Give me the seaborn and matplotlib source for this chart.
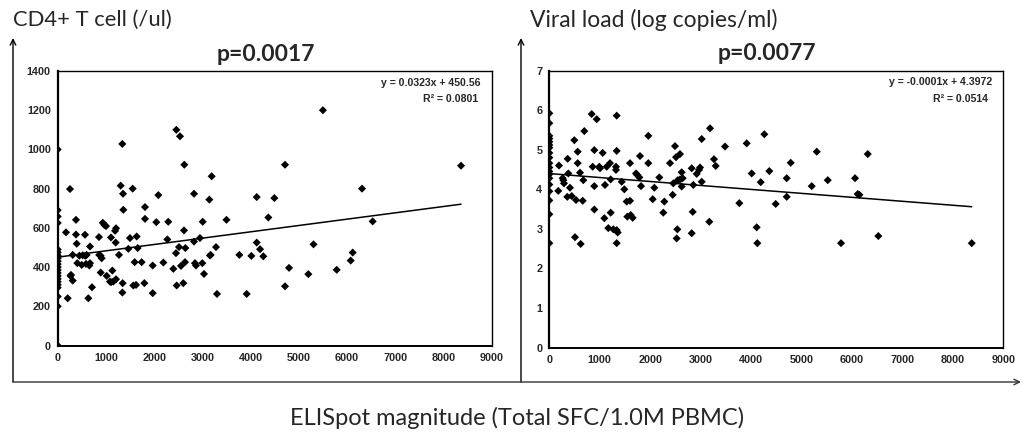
import matplotlib
matplotlib.use("Agg")
import matplotlib.pyplot as plt
import seaborn as sns
import numpy as np
import pandas as pd

# ---------------- data ----------------
cd4_x = [0, 0, 0, 0, 0, 0, 0, 0, 0, 0, 0, 0, 0, 0, 0, 0, 0, 0, 0, 0, 0,
         255, 172, 379, 379, 566, 394, 670, 856, 935, 966, 1002, 1105, 1190, 1210, 1203,
         1306, 1340, 1355, 1361, 1499, 1555, 1638, 1659, 1465, 1810, 1810, 2045, 2087,
         2274, 2293, 2460, 2536, 2626, 2619, 2516, 2647, 2453, 2827, 2827, 2950, 3007,
         3144, 3193, 3172, 3283, 3500, 3767, 4016, 4127, 4127, 4196, 4264, 4368, 4493,
         4714, 5305, 6118, 6311, 6532, 8364, 5500, 6076, 4797, 5198, 5786, 4714, 3919,
         311, 450, 520, 570, 600, 860, 890, 1271, 207, 265, 276, 407, 498, 587, 670,
         656, 311, 635, 711, 892, 1016, 1105, 1133, 1209, 1341, 1347, 1568, 1624, 1596,
         1741, 1797, 1970, 1970, 2191, 2398, 2467, 2557, 2640, 2605, 2847, 2868, 2999,
         3034, 3158, 3303, 912, 1085, 1153]
cd4_y = [1000, 690, 658, 625, 490, 475, 460, 445, 430, 415, 400, 385, 370, 355, 340, 325, 310, 295, 250, 200, 0,
         798, 577, 641, 566, 565, 519, 505, 553, 626, 615, 609, 551, 585, 598, 525,
         815, 1028, 774, 692, 548, 800, 556, 497, 493, 706, 646, 629, 767,
         541, 631, 1100, 1067, 922, 587, 502, 497, 471, 774, 530, 548, 631,
         744, 863, 462, 502, 641, 462, 457, 757, 525, 491, 455, 653, 752,
         922, 516, 474, 800, 633, 917, 1200, 433, 396, 364, 386, 302, 263,
         462, 458, 460, 458, 462, 462, 458, 462, 241, 355, 360, 420, 411, 416, 420,
         408, 331, 241, 297, 372, 355, 323, 382, 338, 270, 318, 306, 309, 425,
         425, 318, 408, 267, 423, 391, 306, 406, 425, 318, 420, 408, 420,
         365, 459, 263, 445, 326, 326]

vl_x = [0, 0, 0, 0, 0, 0, 0, 0, 0, 0, 0, 0, 0, 0, 0, 0, 0, 0, 0,
        192, 178, 265, 278, 291, 364, 377, 410, 357, 444, 496, 563, 563, 529, 609, 510,
        622, 694, 662, 674, 840, 940, 1336, 860, 892, 892, 892, 991, 1005, 1058, 1091,
        1104, 1138, 1170, 1269, 1203, 1217, 1217, 1322, 1322, 1336, 1336, 1336, 1356,
        1435, 1487, 1534, 1600, 1547, 1614, 1653, 1600, 1719, 1746, 1785, 1798, 1818,
        1963, 1963, 2050, 2082, 2181, 2260, 2280, 2393, 2446, 2458, 2492, 2512, 2525,
        2538, 2545, 2591, 2591, 2624, 2624, 2644, 2823, 2823, 2843, 2855, 2922, 2968,
        2988, 3021, 3021, 3172, 3186, 3265, 3299, 3483, 3767, 3913, 4012, 4111, 4124,
        4191, 4263, 4362, 4488, 4706, 4706, 4786, 5202, 5302, 5520, 5783, 6061, 6114,
        6147, 6313, 6523, 8374]
vl_y = [5.92, 5.67, 5.35, 5.28, 5.20, 5.12, 5.05, 4.92, 4.80, 4.66, 4.55, 4.45, 4.38, 4.28, 4.12, 3.95, 3.72, 3.37, 2.64,
        4.60, 3.96, 4.28, 4.23, 4.15, 4.77, 4.40, 4.04, 3.81, 3.83, 5.24, 4.95, 4.66, 3.73, 4.42, 2.79,
        2.62, 5.47, 3.71, 4.23, 5.90, 5.77, 5.86, 4.57, 4.99, 4.08, 3.49, 4.57, 4.53, 4.92, 3.27,
        4.11, 4.57, 3.02, 2.99, 4.66, 4.25, 3.41, 4.49, 4.57, 4.97, 2.97, 2.64, 2.91,
        4.19, 4.00, 3.69, 3.71, 3.31, 3.35, 3.28, 4.66, 4.40, 4.36, 4.30, 4.84, 4.08,
        5.35, 4.66, 3.75, 4.04, 4.30, 3.41, 3.69, 4.66, 3.86, 4.15, 5.09, 4.81, 2.76,
        2.99, 4.23, 4.25, 4.89, 4.43, 4.07, 4.28, 2.89, 4.53, 3.43, 4.11, 4.39, 4.49,
        4.55, 5.27, 4.19, 3.18, 5.54, 4.76, 4.59, 5.08, 3.65, 5.16, 4.40, 3.04, 2.64,
        4.18, 5.39, 4.46, 3.63, 3.81, 4.28, 4.67, 4.08, 4.95, 4.23, 2.64, 4.28, 3.88,
        3.86, 4.89, 2.82, 2.64]

cd4_fit = (0.0323, 450.56)      # slope, intercept
vl_fit = (-0.0001, 4.3972)

x_ticks = [0, 1000, 2000, 3000, 4000, 5000, 6000, 7000, 8000, 9000]
cd4_ticks = [0, 200, 400, 600, 800, 1000, 1200, 1400]
vl_ticks = [0, 1, 2, 3, 4, 5, 6, 7]

# ---------------- figure ----------------
sns.set_style("white")
plt.rcParams["font.family"] = ["Lato", "DejaVu Sans"]

W, H = 1023, 441
fig = plt.figure(figsize=(W / 100, H / 100), dpi=100)

def fx(px):
    return px / W

def fy(py):
    return 1 - py / H

ax1 = fig.add_axes([fx(57.7), fy(345.5), fx(491.7) - fx(57.7), fy(71) - fy(345.5)])
ax2 = fig.add_axes([fx(549.3), fy(347.7), fx(1003.3) - fx(549.3), fy(70.5) - fy(347.7)])

tickfont = dict(family="Liberation Sans", weight="bold", size=7.8)


def panel(ax, xs, ys, fit, yticks, ylim, ptext, eq, r2):
    df = pd.DataFrame({"x": xs, "y": ys})
    sns.scatterplot(data=df, x="x", y="y", ax=ax, marker="D", s=17,
                    color="black", edgecolor="none", linewidth=0, zorder=3)
    xmax = max(xs)
    line = pd.DataFrame({"x": [0, xmax]})
    line["y"] = fit[0] * line["x"] + fit[1]
    sns.lineplot(data=line, x="x", y="y", ax=ax, color="black", lw=1.1, zorder=2)
    ax.set_xlim(0, 9000)
    ax.set_ylim(*ylim)
    ax.set_xticks(x_ticks)
    ax.set_yticks(yticks)
    ax.set_xticklabels([str(t) for t in x_ticks], fontdict=tickfont)
    ax.set_yticklabels([str(t) for t in yticks], fontdict=tickfont)
    ax.tick_params(axis="both", direction="in", length=3, width=0.8, color="black")
    ax.tick_params(axis="y", pad=5)
    ax.tick_params(axis="x", pad=5.5)
    ax.set_xlabel("")
    ax.set_ylabel("")
    for side, sp in ax.spines.items():
        sp.set_visible(True)
        sp.set_color("black")
        sp.set_linewidth(1.0)
    ax.spines["left"].set_linewidth(1.6)
    ax.spines["bottom"].set_linewidth(1.4)
    ax.text(0.48, 1.06, ptext, transform=ax.transAxes, ha="center", va="center",
            fontsize=16.5, fontweight="bold", family=["Lato", "DejaVu Sans"])
    ax.text(0.975, 0.958, eq, transform=ax.transAxes, ha="right", va="center",
            fontsize=7.6, fontweight="bold", family="Liberation Sans")
    ax.text(0.905, 0.897, r2, transform=ax.transAxes, ha="center", va="center",
            fontsize=7.6, fontweight="bold", family="Liberation Sans")


panel(ax1, cd4_x, cd4_y, cd4_fit, cd4_ticks, (0, 1400), "p=0.0017",
      "y = 0.0323x + 450.56", "R² = 0.0801")
panel(ax2, vl_x, vl_y, vl_fit, vl_ticks, (0, 7), "p=0.0077",
      "y = -0.0001x + 4.3972", "R² = 0.0514")

# header labels
fig.text(fx(13), fy(20), "CD4+ T cell (/ul)", ha="left", va="center", fontsize=15.8)
fig.text(fx(530), fy(20), "Viral load (log copies/ml)", ha="left", va="center", fontsize=16.5)
fig.text(fx(517), fy(418), "ELISpot magnitude (Total SFC/1.0M PBMC)", ha="center",
         va="center", fontsize=17)

# outer arrows / frame
arrow = dict(arrowstyle="->", lw=1.0, color="black", shrinkA=0, shrinkB=0)
for xa in (13, 521):
    ax1.annotate("", xy=(fx(xa), fy(38)), xytext=(fx(xa), fy(382)),
                 xycoords="figure fraction", textcoords="figure fraction",
                 arrowprops=arrow, annotation_clip=False)
ax1.annotate("", xy=(fx(1021), fy(382)), xytext=(fx(13), fy(382)),
             xycoords="figure fraction", textcoords="figure fraction",
             arrowprops=dict(arrowstyle="->", lw=1.0, color="#333333", shrinkA=0, shrinkB=0),
             annotation_clip=False)

fig.savefig("out.png", dpi=100, facecolor="white")
